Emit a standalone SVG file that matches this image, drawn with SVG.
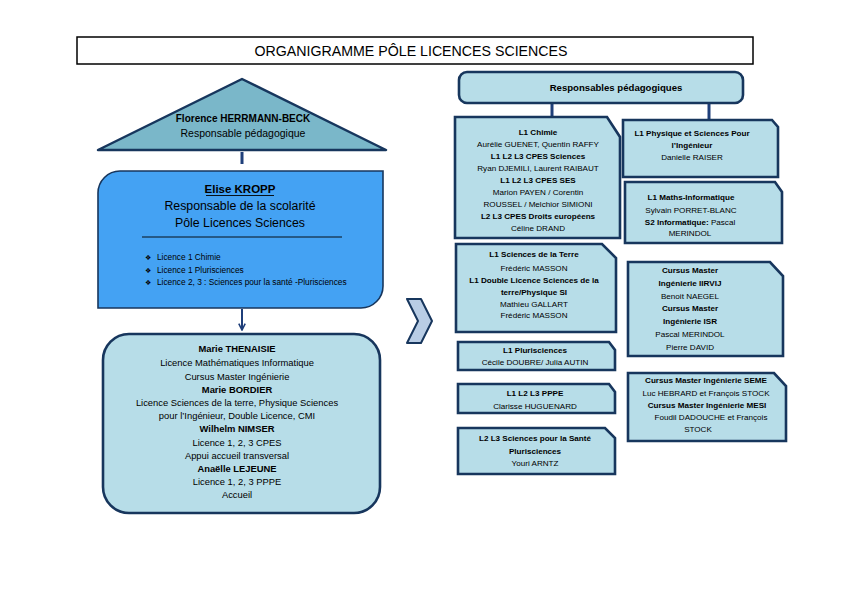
<svg xmlns="http://www.w3.org/2000/svg" width="842" height="595" viewBox="0 0 842 595">
<defs>
<style>
text{font-family:"Liberation Sans",Arial,sans-serif;fill:#000}
.t{font-size:14.2px}
.r{font-size:8.1px;text-anchor:middle}
.b{font-weight:bold}
.m{font-size:9.4px;text-anchor:middle}
.box{fill:#b7dde8;stroke:#17365d;stroke-width:2.6}
.con{stroke:#1f3f7a;fill:none}
.bul{font-family:"DejaVu Sans",sans-serif;font-size:7px}
</style>
<marker id="ah" viewBox="0 0 10 10" refX="9" refY="5" markerWidth="4" markerHeight="4" orient="auto" markerUnits="strokeWidth">
<path d="M1,1 L9,5 L1,9" fill="none" stroke="#1f3f7a" stroke-width="2"/>
</marker>
</defs>
<rect width="842" height="595" fill="#fff"/>

<g id="title">
<rect x="77" y="37" width="676" height="27" fill="#fff" stroke="#000" stroke-width="1.5"/>
<text class="t" x="411" y="56" text-anchor="middle">ORGANIGRAMME PÔLE LICENCES SCIENCES</text>
</g>

<g id="connectors">
<line class="con" x1="242" y1="152" x2="242" y2="164" stroke-width="3"/>
<line class="con" x1="242" y1="309" x2="242" y2="330" stroke-width="2" marker-end="url(#ah)"/>
<line class="con" x1="552" y1="103" x2="552" y2="117" stroke-width="3"/>
<line class="con" x1="709" y1="103" x2="709" y2="120" stroke-width="3"/>
</g>

<g id="florence">
<path d="M242,79 L386,150 L98,150 Z" fill="#7ab7c9" stroke="#17365d" stroke-width="2.5" stroke-linejoin="round"/>
<text x="243" y="122" font-size="10" font-weight="bold" text-anchor="middle">Florence HERRMANN-BECK</text>
<text x="243" y="137" font-size="10.5" text-anchor="middle">Responsable  pédagogique</text>
</g>

<g id="elise">
<path d="M98,193 A22,22 0 0 1 120,171 L383,171 L383,286 A22,22 0 0 1 361,308 L98,308 Z" fill="#44a2f3" stroke="#17365d" stroke-width="1.6"/>
<text x="240" y="193" font-size="11.5" font-weight="bold" text-anchor="middle">Elise KROPP</text>
<line x1="206" y1="195.5" x2="274" y2="195.5" stroke="#000" stroke-width="0.9"/>
<text x="240" y="210" font-size="12.3" text-anchor="middle">Responsable de la scolarité</text>
<text x="240" y="227" font-size="12.3" text-anchor="middle">Pôle Licences Sciences</text>
<line x1="142" y1="237" x2="342" y2="237" stroke="#000" stroke-width="0.9"/>
<g font-size="8.3">
<text class="bul" x="145" y="260">❖</text>
<text x="157" y="260">Licence 1 Chimie</text>
<text class="bul" x="145" y="273">❖</text>
<text x="157" y="273">Licence 1 Plurisciences</text>
<text class="bul" x="145" y="285">❖</text>
<text x="157" y="285">Licence  2, 3 : Sciences pour la santé -Plurisciences</text>
</g>
</g>

<g id="gestionnaires">
<rect x="103" y="334" width="277" height="179" rx="26" ry="26" class="box"/>
<text class="m b" x="237" y="352">Marie THENAISIE</text>
<text class="m" x="237" y="366">Licence Mathématiques Informatique</text>
<text class="m" x="237" y="380">Cursus Master Ingénierie</text>
<text class="m b" x="237" y="393">Marie BORDIER</text>
<text class="m" x="237" y="406">Licence Sciences de la terre, Physique Sciences</text>
<text class="m" x="237" y="419">pour l’Ingénieur, Double Licence, CMI</text>
<text class="m b" x="237" y="432">Wilhelm  NIMSER</text>
<text class="m" x="237" y="446">Licence 1, 2, 3 CPES</text>
<text class="m" x="237" y="459">Appui accueil transversal</text>
<text class="m b" x="237" y="472">Anaëlle LEJEUNE</text>
<text class="m" x="237" y="485">Licence 1, 2, 3 PPPE</text>
<text class="m" x="237" y="498">Accueil</text>
</g>

<g id="chevron">
<path d="M407,299 L421,299 L432,321 L421,343 L407,343 L418,321 Z" fill="#b9cde5" stroke="#17365d" stroke-width="2" stroke-linejoin="round"/>
</g>

<g id="responsables">
<rect x="459" y="72" width="284" height="31" rx="8" ry="8" class="box"/>
<text class="r b" x="616" y="91" font-size="9.6" style="font-size:9.6px">Responsables pédagogiques</text>
</g>

<g id="chimie">
<path class="box" d="M455,117 L607,117 L620,137 L620,238 L455,238 Z"/>
<text class="r b" x="538" y="135">L1 Chimie</text>
<text class="r" x="538" y="147">Aurélie GUENET, Quentin RAFFY</text>
<text class="r b" x="538" y="159">L1 L2 L3 CPES Sciences</text>
<text class="r" x="538" y="171">Ryan DJEMILI, Laurent RAIBAUT</text>
<text class="r b" x="538" y="183">L1 L2 L3 CPES SES</text>
<text class="r" x="538" y="195">Marion PAYEN / Corentin</text>
<text class="r" x="538" y="207">ROUSSEL / Melchior SIMIONI</text>
<text class="r b" x="538" y="219">L2 L3 CPES Droits européens</text>
<text class="r" x="538" y="231">Céline DRAND</text>
</g>

<g id="terre">
<path class="box" d="M456,244 L602,244 L616,258 L616,332 L456,332 Z"/>
<text class="r b" x="534" y="257">L1 Sciences de la Terre</text>
<text class="r" x="534" y="271">Frédéric MASSON</text>
<text class="r b" x="534" y="283">L1 Double Licence Sciences de la</text>
<text class="r b" x="534" y="295">terre/Physique SI</text>
<text class="r" x="534" y="307">Mathieu GALLART</text>
<text class="r" x="534" y="318">Frédéric MASSON</text>
</g>

<g id="pluri">
<path class="box" d="M458,342 L609,342 L615,350 L615,370 L458,370 Z"/>
<text class="r b" x="535" y="353">L1 Plurisciences</text>
<text class="r" x="535" y="365">Cécile DOUBRE/ Julia AUTIN</text>
</g>

<g id="pppe">
<path class="box" d="M458,384 L609,384 L615,392 L615,413 L458,413 Z"/>
<text class="r b" x="535" y="396">L1 L2 L3 PPPE</text>
<text class="r" x="535" y="409">Clarisse HUGUENARD</text>
</g>

<g id="sante">
<path class="box" d="M458,428 L605,428 L615,438 L615,474 L458,474 Z"/>
<text class="r b" x="535" y="441">L2 L3 Sciences pour la Santé</text>
<text class="r b" x="535" y="454">Plurisciences</text>
<text class="r" x="535" y="466">Youri ARNTZ</text>
</g>

<g id="physique">
<path class="box" d="M623,120 L772,120 L778,127 L778,177 L623,177 Z"/>
<text class="r b" x="692" y="136">L1 Physique et Sciences Pour</text>
<text class="r b" x="692" y="148">l’Ingénieur</text>
<text class="r" x="692" y="160">Danielle RAISER</text>
</g>

<g id="maths">
<path class="box" d="M625,182 L775,182 L782,192 L782,243 L625,243 Z"/>
<text class="r b" x="691" y="200">L1 Maths-Informatique</text>
<text class="r" x="691" y="213">Sylvain PORRET-BLANC</text>
<text class="r" x="690" y="225"><tspan font-weight="bold">S2 Informatique:</tspan> Pascal</text>
<text class="r" x="690" y="236">MERINDOL</text>
</g>

<g id="cmi1">
<path class="box" d="M628,262 L770,262 L783,276 L783,356 L628,356 Z"/>
<text class="r b" x="690" y="273">Cursus Master</text>
<text class="r b" x="690" y="286">Ingénierie IIRVIJ</text>
<text class="r" x="690" y="299">Benoit NAEGEL</text>
<text class="r b" x="690" y="311">Cursus Master</text>
<text class="r b" x="690" y="324">Ingénierie ISR</text>
<text class="r" x="690" y="337">Pascal MERINDOL</text>
<text class="r" x="690" y="350">Pierre DAVID</text>
</g>

<g id="cmi2">
<path class="box" d="M628,373 L774,373 L786,386 L786,441 L628,441 Z"/>
<text class="r b" x="706" y="383">Cursus Master Ingénierie SEME</text>
<text class="r" x="706" y="396">Luc HEBRARD et François STOCK</text>
<text class="r b" x="707" y="408">Cursus Master Ingénierie MESI</text>
<text class="r" x="711" y="420">Foudil DADOUCHE et François</text>
<text class="r" x="698" y="432">STOCK</text>
</g>
</svg>
